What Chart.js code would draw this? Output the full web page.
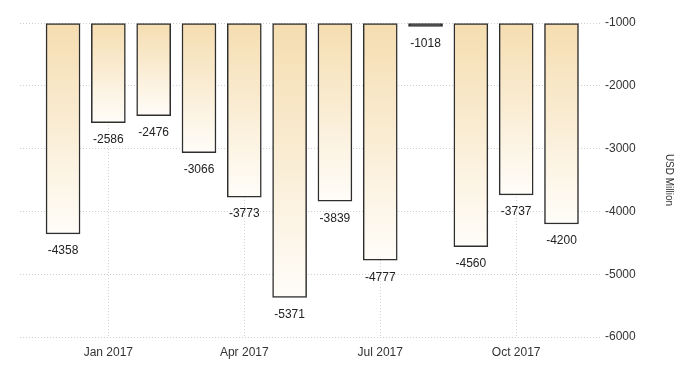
<!DOCTYPE html>
<html>
<head>
<meta charset="utf-8">
<script src="https://cdn.jsdelivr.net/npm/chart.js@4.4.1/dist/chart.umd.min.js"></script>
<style>
  html, body { margin: 0; padding: 0; background: #fff; }
  #wrap { width: 700px; height: 375px; }
</style>
</head>
<body>
<div id="wrap"><canvas id="myChart"></canvas></div>
<script>
var months = ['Dec 2016', 'Jan 2017', 'Feb 2017', 'Mar 2017', 'Apr 2017', 'May 2017', 'Jun 2017', 'Jul 2017', 'Aug 2017', 'Sep 2017', 'Oct 2017', 'Nov 2017'];
var balance = [-4358, -2586, -2476, -3066, -3773, -5371, -3839, -4777, -1018, -4560, -3737, -4200];
var tickMonths = ['Jan 2017', 'Apr 2017', 'Jul 2017', 'Oct 2017'];
var yTicks = [-1000, -2000, -3000, -4000, -5000, -6000];

var fontFamily = "'Liberation Sans', Arial, sans-serif";

// labels under each bar
var barLabels = {
    id: 'barLabels',
    afterDatasetsDraw: function (chart) {
        var ctx = chart.ctx;
        var meta = chart.getDatasetMeta(0);
        ctx.save();
        ctx.font = '12px ' + fontFamily;
        ctx.fillStyle = '#222';
        ctx.textAlign = 'center';
        ctx.textBaseline = 'middle';
        meta.data.forEach(function (bar, i) {
            ctx.fillText(String(balance[i]), bar.x, bar.y + 17);
        });
        ctx.restore();
    }
};

function barFill(context) {
    var chart = context.chart;
    var y = chart.scales.y;
    if (!chart.chartArea || !y || context.dataIndex === undefined) return '#f5deb3';
    var top = y.getPixelForValue(-1000);
    var bottom = y.getPixelForValue(balance[context.dataIndex]);
    if (!isFinite(top) || !isFinite(bottom) || bottom - top < 4) return '#111';
    var g = chart.ctx.createLinearGradient(0, top, 0, bottom);
    g.addColorStop(0, '#f5ddb0');
    g.addColorStop(1, '#fffdf9');
    return g;
}

var ctx = document.getElementById('myChart').getContext('2d');
var myChart = new Chart(ctx, {
    type: 'bar',
    data: {
        datasets: [{
            label: 'Balance',
            data: balance.map(function (v, i) { return { x: i, y: v }; }),
            base: -1000,
            backgroundColor: barFill,
            borderColor: '#2e2e2e',
            borderWidth: 1.5,
            borderSkipped: false,
            barThickness: 34,
            minBarLength: 3.5
        }]
    },
    options: {
        responsive: true,
        maintainAspectRatio: false,
        animation: false,
        layout: { padding: { left: 20, top: 23, right: 21, bottom: 15 } },
        plugins: {
            legend: { display: false },
            tooltip: { enabled: false }
        },
        scales: {
            x: {
                type: 'linear',
                offset: false,
                min: -0.95,
                max: 11.85,
                afterBuildTicks: function (scale) {
                    scale.ticks = tickMonths.map(function (m) { return { value: months.indexOf(m) }; });
                },
                afterFit: function (scale) { scale.height = 23; },
                ticks: {
                    padding: 8,
                    color: '#333',
                    maxRotation: 0,
                    font: { family: fontFamily, size: 12 },
                    callback: function (v) { return months[v]; }
                },
                grid: { color: '#d6d6d6', drawTicks: false, offset: false },
                border: { display: false, dash: [1, 2] }
            },
            y: {
                position: 'right',
                min: -6000,
                max: -1000,
                afterBuildTicks: function (scale) {
                    scale.ticks = yTicks.map(function (v) { return { value: v }; });
                },
                afterFit: function (scale) { scale.width = 79; },
                ticks: {
                    padding: 5,
                    color: '#333',
                    font: { family: fontFamily, size: 12 },
                    callback: function (v) { return String(v); }
                },
                grid: { color: '#cfcfcf', drawTicks: false },
                border: { display: false, dash: [1, 2] },
                title: {
                    display: true,
                    text: 'USD Million',
                    color: '#333',
                    font: { family: fontFamily, size: 10 }
                }
            }
        }
    },
    plugins: [barLabels]
});
</script>
</body>
</html>
